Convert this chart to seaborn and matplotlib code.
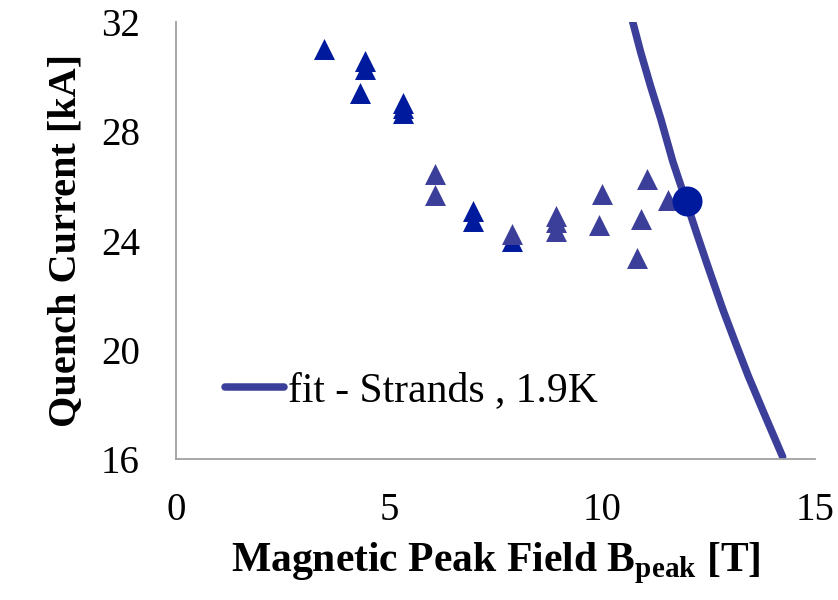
import matplotlib
matplotlib.use("Agg")
import matplotlib.pyplot as plt
import seaborn as sns
import pandas as pd

# ---- data ----
dark_b = [3.47, 4.43, 4.43, 4.33, 5.32, 5.32, 5.32, 6.96, 6.96, 7.89]
dark_i = [31.0, 30.57, 30.28, 29.4, 29.03, 28.85, 28.67, 25.08, 24.71, 24.0]

light_b = [6.09, 6.09, 7.89, 8.92, 8.92, 8.92, 10.0, 9.93, 11.05, 10.91, 10.82, 11.55]
light_i = [26.43, 25.66, 24.23, 24.89, 24.67, 24.34, 25.7, 24.56, 26.25, 24.78, 23.35, 25.48]

fit_b = [10.71, 10.91, 11.14, 11.38, 11.66, 11.96, 12.21, 12.47, 12.83, 13.12, 13.43, 13.77, 14.24]
fit_i = [32.07, 30.88, 29.65, 28.45, 26.90, 25.50, 24.32, 23.12, 21.50, 20.30, 19.05, 17.79, 16.08]

crit_b = [11.99]
crit_i = [25.44]

fit_label = "fit - Strands , 1.9K"
x_ticks = [0, 5, 10, 15]
y_ticks = [16, 20, 24, 28, 32]

sns.set_theme(style="white")
plt.rcParams["font.family"] = ["Liberation Serif", "DejaVu Serif"]
plt.rcParams["mathtext.fontset"] = "custom"
plt.rcParams["mathtext.rm"] = "Liberation Serif"
plt.rcParams["mathtext.bf"] = "Liberation Serif:bold"
plt.rcParams["text.color"] = "black"
plt.rcParams["axes.labelcolor"] = "black"
plt.rcParams["xtick.color"] = "black"
plt.rcParams["ytick.color"] = "black"

dark_df = pd.DataFrame({"B": dark_b, "I": dark_i})
light_df = pd.DataFrame({"B": light_b, "I": light_i})
fit_df = pd.DataFrame({"B": fit_b, "I": fit_i})
crit_df = pd.DataFrame({"B": crit_b, "I": crit_i})

fig = plt.figure(figsize=(8.38, 6.0), dpi=100)
ax = fig.add_axes([0.210, 0.235, 0.7626, 0.7283])

line_color = "#3C3F9A"
dark_color = "#001A9E"

sns.lineplot(data=fit_df, x="B", y="I", ax=ax, color=line_color, linewidth=5.4,
             label=fit_label, sort=False, zorder=2, solid_capstyle="round",
             solid_joinstyle="round")
sns.scatterplot(data=dark_df, x="B", y="I", ax=ax, marker="^", s=228,
                color=dark_color, linewidth=0, zorder=3, legend=False)
sns.scatterplot(data=light_df, x="B", y="I", ax=ax, marker="^", s=228,
                color=line_color, linewidth=0, zorder=4, legend=False)
sns.scatterplot(data=crit_df, x="B", y="I", ax=ax, marker="o", s=467,
                color=dark_color, linewidth=0, zorder=5, legend=False)

ax.set_xlim(0, 15)
ax.set_ylim(16, 32)
ax.set_xticks(x_ticks)
ax.set_yticks(y_ticks)
ax.tick_params(axis="both", length=0, labelsize=28, colors="black")
ax.tick_params(axis="y", pad=26)
ax.tick_params(axis="x", pad=24)

for side in ["top", "right"]:
    ax.spines[side].set_visible(False)
for side in ["left", "bottom"]:
    ax.spines[side].set_color("#A0A0A0")
    ax.spines[side].set_linewidth(1.3)

ax.set_xlabel(r"Magnetic Peak Field B$_{\mathbf{peak}}$ [T]", fontsize=30,
              fontweight="bold", labelpad=8, color="black")
ax.set_ylabel("Quench Current [kA]", fontsize=29, fontweight="bold", labelpad=12,
              color="black")

leg = ax.legend(loc="center left", bbox_to_anchor=(0.077, 0.155), frameon=False,
                fontsize=30, handlelength=1.4, handletextpad=0.1,
                borderpad=0, borderaxespad=0)
for t in leg.get_texts():
    t.set_color("black")

fig.savefig("out.png", dpi=100)
